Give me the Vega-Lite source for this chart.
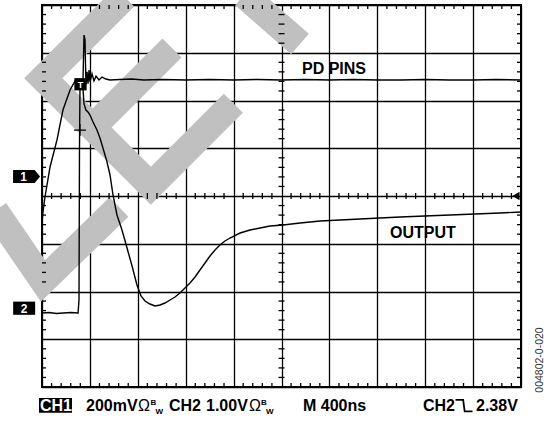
{
  "$schema": "https://vega.github.io/schema/vega-lite/v6.json",
  "width": 479,
  "height": 382,
  "autosize": "none",
  "padding": {"left": 42, "top": 5, "right": 28, "bottom": 36},
  "background": "white",
  "config": {
    "view": {"stroke": "black", "strokeWidth": 2},
    "axis": {"grid": true, "gridColor": "black", "gridWidth": 1.3, "gridOpacity": 1, "labels": false, "ticks": false, "domain": false, "title": null, "zindex": 1}
  },
  "datasets": {
    "wm": [
      {"id": "E", "i": 0, "t": 690.6, "v": 4.168},
      {"id": "E", "i": 1, "t": 10.9, "v": 2.465},
      {"id": "E", "i": 2, "t": 908.6, "v": 0.214},
      {"id": "E", "i": 3, "t": 1597.6, "v": 1.941},
      {"id": "M", "i": 0, "t": 421.7, "v": 1.435},
      {"id": "M", "i": 1, "t": 1085.6, "v": 3.099},
      {"id": "R", "i": 0, "t": 1686.9, "v": 4.209},
      {"id": "R", "i": 1, "t": 2154.6, "v": 3.183},
      {"id": "V", "i": 0, "t": -392.5, "v": -0.308},
      {"id": "V", "i": 1, "t": 8.4, "v": -1.78},
      {"id": "V", "i": 2, "t": 643, "v": -0.23}
    ],
    "xminor": [
      {"p": 80}, {"p": 160}, {"p": 240}, {"p": 320},
      {"p": 480}, {"p": 560}, {"p": 640}, {"p": 720},
      {"p": 880}, {"p": 960}, {"p": 1040}, {"p": 1120},
      {"p": 1280}, {"p": 1360}, {"p": 1440}, {"p": 1520},
      {"p": 1680}, {"p": 1760}, {"p": 1840}, {"p": 1920},
      {"p": 2080}, {"p": 2160}, {"p": 2240}, {"p": 2320},
      {"p": 2480}, {"p": 2560}, {"p": 2640}, {"p": 2720},
      {"p": 2880}, {"p": 2960}, {"p": 3040}, {"p": 3120},
      {"p": 3280}, {"p": 3360}, {"p": 3440}, {"p": 3520},
      {"p": 3680}, {"p": 3760}, {"p": 3840}, {"p": 3920}
    ],
    "yminor": [
      {"p": -3.8}, {"p": -3.6}, {"p": -3.4}, {"p": -3.2},
      {"p": -2.8}, {"p": -2.6}, {"p": -2.4}, {"p": -2.2},
      {"p": -1.8}, {"p": -1.6}, {"p": -1.4}, {"p": -1.2},
      {"p": -0.8}, {"p": -0.6}, {"p": -0.4}, {"p": -0.2},
      {"p": 0.2}, {"p": 0.4}, {"p": 0.6}, {"p": 0.8},
      {"p": 1.2}, {"p": 1.4}, {"p": 1.6}, {"p": 1.8},
      {"p": 2.2}, {"p": 2.4}, {"p": 2.6}, {"p": 2.8},
      {"p": 3.2}, {"p": 3.4}, {"p": 3.6}, {"p": 3.8}
    ],
    "trace": [
      {"s": "pd", "t": 0, "v": -2.45},
      {"s": "pd", "t": 60, "v": -2.44},
      {"s": "pd", "t": 120, "v": -2.46},
      {"s": "pd", "t": 180, "v": -2.45},
      {"s": "pd", "t": 240, "v": -2.44},
      {"s": "pd", "t": 301, "v": -2.45},
      {"s": "pd", "t": 309, "v": -2.18},
      {"s": "pd", "t": 313, "v": 0.96},
      {"s": "pd", "t": 317, "v": 2.22},
      {"s": "pd", "t": 326, "v": 2.35},
      {"s": "pd", "t": 342, "v": 2.39},
      {"s": "pd", "t": 351, "v": 3.37},
      {"s": "pd", "t": 359, "v": 3.27},
      {"s": "pd", "t": 367, "v": 2.33},
      {"s": "pd", "t": 376, "v": 2.6},
      {"s": "pd", "t": 384, "v": 2.35},
      {"s": "pd", "t": 393, "v": 2.64},
      {"s": "pd", "t": 401, "v": 2.39},
      {"s": "pd", "t": 418, "v": 2.56},
      {"s": "pd", "t": 434, "v": 2.41},
      {"s": "pd", "t": 451, "v": 2.51},
      {"s": "pd", "t": 476, "v": 2.43},
      {"s": "pd", "t": 501, "v": 2.49},
      {"s": "pd", "t": 534, "v": 2.45},
      {"s": "pd", "t": 568, "v": 2.43},
      {"s": "pd", "t": 650, "v": 2.44},
      {"s": "pd", "t": 750, "v": 2.45},
      {"s": "pd", "t": 850, "v": 2.43},
      {"s": "pd", "t": 1000, "v": 2.44},
      {"s": "pd", "t": 1200, "v": 2.43},
      {"s": "pd", "t": 1400, "v": 2.44},
      {"s": "pd", "t": 1600, "v": 2.43},
      {"s": "pd", "t": 1800, "v": 2.44},
      {"s": "pd", "t": 2000, "v": 2.43},
      {"s": "pd", "t": 2200, "v": 2.44},
      {"s": "pd", "t": 2400, "v": 2.43},
      {"s": "pd", "t": 2600, "v": 2.44},
      {"s": "pd", "t": 2800, "v": 2.43},
      {"s": "pd", "t": 3000, "v": 2.43},
      {"s": "pd", "t": 3200, "v": 2.44},
      {"s": "pd", "t": 3400, "v": 2.43},
      {"s": "pd", "t": 3600, "v": 2.43},
      {"s": "pd", "t": 3800, "v": 2.44},
      {"s": "pd", "t": 4000, "v": 2.43},
      {"s": "out", "t": 0, "v": -0.545},
      {"s": "out", "t": 8, "v": -0.335},
      {"s": "out", "t": 25, "v": -0.021},
      {"s": "out", "t": 67, "v": 0.607},
      {"s": "out", "t": 125, "v": 1.173},
      {"s": "out", "t": 175, "v": 1.801},
      {"s": "out", "t": 234, "v": 2.22},
      {"s": "out", "t": 276, "v": 2.408},
      {"s": "out", "t": 301, "v": 2.45},
      {"s": "out", "t": 326, "v": 2.429},
      {"s": "out", "t": 342, "v": 2.262},
      {"s": "out", "t": 351, "v": 1.927},
      {"s": "out", "t": 367, "v": 1.801},
      {"s": "out", "t": 384, "v": 1.759},
      {"s": "out", "t": 401, "v": 1.696},
      {"s": "out", "t": 426, "v": 1.55},
      {"s": "out", "t": 459, "v": 1.382},
      {"s": "out", "t": 484, "v": 1.215},
      {"s": "out", "t": 509, "v": 1.005},
      {"s": "out", "t": 543, "v": 0.712},
      {"s": "out", "t": 568, "v": 0.44},
      {"s": "out", "t": 593, "v": 0.021},
      {"s": "out", "t": 626, "v": -0.398},
      {"s": "out", "t": 668, "v": -0.712},
      {"s": "out", "t": 710, "v": -1.089},
      {"s": "out", "t": 752, "v": -1.466},
      {"s": "out", "t": 793, "v": -1.864},
      {"s": "out", "t": 827, "v": -2.094},
      {"s": "out", "t": 860, "v": -2.199},
      {"s": "out", "t": 902, "v": -2.262},
      {"s": "out", "t": 944, "v": -2.304},
      {"s": "out", "t": 985, "v": -2.283},
      {"s": "out", "t": 1027, "v": -2.241},
      {"s": "out", "t": 1069, "v": -2.178},
      {"s": "out", "t": 1111, "v": -2.115},
      {"s": "out", "t": 1152, "v": -2.031},
      {"s": "out", "t": 1194, "v": -1.927},
      {"s": "out", "t": 1236, "v": -1.822},
      {"s": "out", "t": 1278, "v": -1.696},
      {"s": "out", "t": 1319, "v": -1.55},
      {"s": "out", "t": 1361, "v": -1.403},
      {"s": "out", "t": 1403, "v": -1.257},
      {"s": "out", "t": 1445, "v": -1.131},
      {"s": "out", "t": 1486, "v": -1.026},
      {"s": "out", "t": 1528, "v": -0.942},
      {"s": "out", "t": 1570, "v": -0.88},
      {"s": "out", "t": 1654, "v": -0.775},
      {"s": "out", "t": 1737, "v": -0.712},
      {"s": "out", "t": 1821, "v": -0.67},
      {"s": "out", "t": 1904, "v": -0.628},
      {"s": "out", "t": 2013, "v": -0.607},
      {"s": "out", "t": 2155, "v": -0.565},
      {"s": "out", "t": 2322, "v": -0.524},
      {"s": "out", "t": 2489, "v": -0.503},
      {"s": "out", "t": 2656, "v": -0.482},
      {"s": "out", "t": 2823, "v": -0.461},
      {"s": "out", "t": 2990, "v": -0.44},
      {"s": "out", "t": 3198, "v": -0.419},
      {"s": "out", "t": 3407, "v": -0.398},
      {"s": "out", "t": 3616, "v": -0.377},
      {"s": "out", "t": 3825, "v": -0.356},
      {"s": "out", "t": 4000, "v": -0.335}
    ],
    "ann": [
      {"k": "tbox", "t": 321.5, "v": 2.34},
      {"k": "cross", "t": 317, "v": 1.38},
      {"k": "lvl", "t": 3958, "v": 0},
      {"k": "m1", "t": -129, "v": 0.41},
      {"k": "m2", "t": -149, "v": -2.35},
      {"k": "trig", "t": 3524, "v": -4.39}
    ],
    "box": [
      {"t": -25, "t2": 250.5, "v": -4.23, "v2": -4.54}
    ],
    "txt": [
      {"k": "big", "t": 2171.3, "v": 2.565, "s": "PD PINS"},
      {"k": "big", "t": 2906, "v": -0.88, "s": "OUTPUT"},
      {"k": "big", "t": 367.4, "v": -4.513, "s": "200mV"},
      {"k": "big", "t": 1060, "v": -4.513, "s": "CH2"},
      {"k": "big", "t": 1369.6, "v": -4.513, "s": "1.00V"},
      {"k": "big", "t": 2179.6, "v": -4.513, "s": "M 400ns"},
      {"k": "big", "t": 3181.7, "v": -4.513, "s": "CH2"},
      {"k": "big", "t": 3624.3, "v": -4.513, "s": "2.38V"},
      {"k": "om", "t": 801.7, "v": -4.513, "s": "Ω"},
      {"k": "om", "t": 1728.7, "v": -4.513, "s": "Ω"},
      {"k": "sm", "t": 906, "v": -4.377, "s": "B"},
      {"k": "sm", "t": 948, "v": -4.555, "s": "W"},
      {"k": "sm", "t": 1828.9, "v": -4.377, "s": "B"},
      {"k": "sm", "t": 1870.6, "v": -4.555, "s": "W"},
      {"k": "ch1", "t": -16.7, "v": -4.513, "s": "CH1"},
      {"k": "num", "t": -154.5, "v": 0.419, "s": "1"},
      {"k": "num", "t": -150.3, "v": -2.356, "s": "2"},
      {"k": "tt", "t": 321.5, "v": 2.34, "s": "T"},
      {"k": "id", "t": 4159, "v": -3.435, "s": "004802-0-020"}
    ]
  },
  "layer": [
    {
      "data": {"name": "wm"},
      "mark": {"type": "line", "color": "#c0c0c0", "strokeWidth": 27, "strokeJoin": "miter", "strokeCap": "butt", "clip": false},
      "encoding": {
        "x": {"field": "t", "type": "quantitative", "scale": {"domain": [0, 4000], "nice": false, "zero": false}, "axis": {"values": [0, 400, 800, 1200, 1600, 2000, 2400, 2800, 3200, 3600, 4000]}},
        "y": {"field": "v", "type": "quantitative", "scale": {"domain": [-4, 4], "nice": false, "zero": false}, "axis": {"values": [-4, -3, -2, -1, 0, 1, 2, 3, 4]}},
        "detail": {"field": "id"},
        "order": {"field": "i"}
      }
    },
    {
      "data": {"name": "xminor"},
      "mark": {"type": "tick", "orient": "vertical", "size": 4, "thickness": 1.3, "yOffset": 2, "color": "black", "opacity": 1},
      "encoding": {
        "x": {"field": "p", "type": "quantitative", "scale": {"domain": [0, 4000], "nice": false, "zero": false}},
        "y": {"datum": 4, "type": "quantitative", "scale": {"domain": [-4, 4], "nice": false, "zero": false}}
      }
    },
    {
      "data": {"name": "xminor"},
      "mark": {"type": "tick", "orient": "vertical", "size": 4, "thickness": 1.3, "yOffset": -2, "color": "black", "opacity": 1},
      "encoding": {
        "x": {"field": "p", "type": "quantitative", "scale": {"domain": [0, 4000], "nice": false, "zero": false}},
        "y": {"datum": -4, "type": "quantitative", "scale": {"domain": [-4, 4], "nice": false, "zero": false}}
      }
    },
    {
      "data": {"name": "xminor"},
      "mark": {"type": "tick", "orient": "vertical", "size": 6, "thickness": 1.3, "color": "black", "opacity": 1},
      "encoding": {
        "x": {"field": "p", "type": "quantitative", "scale": {"domain": [0, 4000], "nice": false, "zero": false}},
        "y": {"datum": 0, "type": "quantitative", "scale": {"domain": [-4, 4], "nice": false, "zero": false}}
      }
    },
    {
      "data": {"name": "yminor"},
      "mark": {"type": "tick", "orient": "horizontal", "size": 4, "thickness": 1.3, "xOffset": 2, "color": "black", "opacity": 1},
      "encoding": {
        "y": {"field": "p", "type": "quantitative", "scale": {"domain": [-4, 4], "nice": false, "zero": false}},
        "x": {"datum": 0, "type": "quantitative", "scale": {"domain": [0, 4000], "nice": false, "zero": false}}
      }
    },
    {
      "data": {"name": "yminor"},
      "mark": {"type": "tick", "orient": "horizontal", "size": 4, "thickness": 1.3, "xOffset": -2, "color": "black", "opacity": 1},
      "encoding": {
        "y": {"field": "p", "type": "quantitative", "scale": {"domain": [-4, 4], "nice": false, "zero": false}},
        "x": {"datum": 4000, "type": "quantitative", "scale": {"domain": [0, 4000], "nice": false, "zero": false}}
      }
    },
    {
      "data": {"name": "yminor"},
      "mark": {"type": "tick", "orient": "horizontal", "size": 6, "thickness": 1.3, "color": "black", "opacity": 1},
      "encoding": {
        "y": {"field": "p", "type": "quantitative", "scale": {"domain": [-4, 4], "nice": false, "zero": false}},
        "x": {"datum": 2000, "type": "quantitative", "scale": {"domain": [0, 4000], "nice": false, "zero": false}}
      }
    },
    {
      "data": {"name": "trace"},
      "mark": {"type": "line", "color": "black", "strokeWidth": 1.4, "clip": false},
      "encoding": {
        "x": {"field": "t", "type": "quantitative", "scale": {"domain": [0, 4000], "nice": false, "zero": false}},
        "y": {"field": "v", "type": "quantitative", "scale": {"domain": [-4, 4], "nice": false, "zero": false}},
        "detail": {"field": "s"}
      }
    },
    {
      "data": {"name": "box"},
      "mark": {"type": "rect", "color": "black", "opacity": 1},
      "encoding": {
        "x": {"field": "t", "type": "quantitative", "scale": {"domain": [0, 4000], "nice": false, "zero": false}},
        "x2": {"field": "t2"},
        "y": {"field": "v", "type": "quantitative", "scale": {"domain": [-4, 4], "nice": false, "zero": false}},
        "y2": {"field": "v2"}
      }
    },
    {
      "data": {"name": "ann"},
      "transform": [{"filter": "datum.k == 'tbox'"}],
      "mark": {"type": "point", "shape": "square", "size": 150, "filled": true, "color": "black", "opacity": 1},
      "encoding": {
        "x": {"field": "t", "type": "quantitative", "scale": {"domain": [0, 4000], "nice": false, "zero": false}},
        "y": {"field": "v", "type": "quantitative", "scale": {"domain": [-4, 4], "nice": false, "zero": false}}
      }
    },
    {
      "data": {"name": "ann"},
      "transform": [{"filter": "datum.k == 'cross'"}],
      "mark": {"type": "point", "shape": "M-1,0L1,0M0,-1L0,1", "size": 144, "filled": false, "color": "black", "strokeWidth": 1.2, "opacity": 1},
      "encoding": {
        "x": {"field": "t", "type": "quantitative", "scale": {"domain": [0, 4000], "nice": false, "zero": false}},
        "y": {"field": "v", "type": "quantitative", "scale": {"domain": [-4, 4], "nice": false, "zero": false}}
      }
    },
    {
      "data": {"name": "ann"},
      "transform": [{"filter": "datum.k == 'lvl'"}],
      "mark": {"type": "point", "shape": "triangle-left", "size": 70, "filled": true, "color": "black", "opacity": 1},
      "encoding": {
        "x": {"field": "t", "type": "quantitative", "scale": {"domain": [0, 4000], "nice": false, "zero": false}},
        "y": {"field": "v", "type": "quantitative", "scale": {"domain": [-4, 4], "nice": false, "zero": false}}
      }
    },
    {
      "data": {"name": "ann"},
      "transform": [{"filter": "datum.k == 'm1'"}],
      "mark": {"type": "point", "shape": "M-1,-0.48L0.6,-0.48L1,0L0.6,0.48L-1,0.48Z", "size": 729, "filled": true, "color": "black", "opacity": 1},
      "encoding": {
        "x": {"field": "t", "type": "quantitative", "scale": {"domain": [0, 4000], "nice": false, "zero": false}},
        "y": {"field": "v", "type": "quantitative", "scale": {"domain": [-4, 4], "nice": false, "zero": false}}
      }
    },
    {
      "data": {"name": "ann"},
      "transform": [{"filter": "datum.k == 'm2'"}],
      "mark": {"type": "point", "shape": "M-1,-0.6L1,-0.6L1,0.6L-1,0.6Z", "size": 484, "filled": true, "color": "black", "opacity": 1},
      "encoding": {
        "x": {"field": "t", "type": "quantitative", "scale": {"domain": [0, 4000], "nice": false, "zero": false}},
        "y": {"field": "v", "type": "quantitative", "scale": {"domain": [-4, 4], "nice": false, "zero": false}}
      }
    },
    {
      "data": {"name": "ann"},
      "transform": [{"filter": "datum.k == 'trig'"}],
      "mark": {"type": "point", "shape": "M-1,-0.68L-0.1,-0.68L0.08,0.68L1,0.68", "size": 289, "filled": false, "color": "black", "strokeWidth": 1.8, "opacity": 1},
      "encoding": {
        "x": {"field": "t", "type": "quantitative", "scale": {"domain": [0, 4000], "nice": false, "zero": false}},
        "y": {"field": "v", "type": "quantitative", "scale": {"domain": [-4, 4], "nice": false, "zero": false}}
      }
    },
    {
      "data": {"name": "txt"},
      "transform": [{"filter": "datum.k == 'big'"}],
      "mark": {"type": "text", "font": "Liberation Sans", "fontSize": 16, "fontWeight": "bold", "align": "left", "baseline": "alphabetic", "color": "black"},
      "encoding": {
        "x": {"field": "t", "type": "quantitative", "scale": {"domain": [0, 4000], "nice": false, "zero": false}},
        "y": {"field": "v", "type": "quantitative", "scale": {"domain": [-4, 4], "nice": false, "zero": false}},
        "text": {"field": "s"}
      }
    },
    {
      "data": {"name": "txt"},
      "transform": [{"filter": "datum.k == 'om'"}],
      "mark": {"type": "text", "font": "Liberation Sans", "fontSize": 16, "align": "left", "baseline": "alphabetic", "color": "black"},
      "encoding": {
        "x": {"field": "t", "type": "quantitative", "scale": {"domain": [0, 4000], "nice": false, "zero": false}},
        "y": {"field": "v", "type": "quantitative", "scale": {"domain": [-4, 4], "nice": false, "zero": false}},
        "text": {"field": "s"}
      }
    },
    {
      "data": {"name": "txt"},
      "transform": [{"filter": "datum.k == 'sm'"}],
      "mark": {"type": "text", "font": "Liberation Sans", "fontSize": 8, "fontWeight": "bold", "align": "left", "baseline": "alphabetic", "color": "black"},
      "encoding": {
        "x": {"field": "t", "type": "quantitative", "scale": {"domain": [0, 4000], "nice": false, "zero": false}},
        "y": {"field": "v", "type": "quantitative", "scale": {"domain": [-4, 4], "nice": false, "zero": false}},
        "text": {"field": "s"}
      }
    },
    {
      "data": {"name": "txt"},
      "transform": [{"filter": "datum.k == 'ch1'"}],
      "mark": {"type": "text", "font": "Liberation Sans", "fontSize": 16, "fontWeight": "bold", "align": "left", "baseline": "alphabetic", "color": "white"},
      "encoding": {
        "x": {"field": "t", "type": "quantitative", "scale": {"domain": [0, 4000], "nice": false, "zero": false}},
        "y": {"field": "v", "type": "quantitative", "scale": {"domain": [-4, 4], "nice": false, "zero": false}},
        "text": {"field": "s"}
      }
    },
    {
      "data": {"name": "txt"},
      "transform": [{"filter": "datum.k == 'num'"}],
      "mark": {"type": "text", "font": "Liberation Sans", "fontSize": 12, "fontWeight": "bold", "align": "center", "baseline": "middle", "dy": 1, "color": "white"},
      "encoding": {
        "x": {"field": "t", "type": "quantitative", "scale": {"domain": [0, 4000], "nice": false, "zero": false}},
        "y": {"field": "v", "type": "quantitative", "scale": {"domain": [-4, 4], "nice": false, "zero": false}},
        "text": {"field": "s"}
      }
    },
    {
      "data": {"name": "txt"},
      "transform": [{"filter": "datum.k == 'tt'"}],
      "mark": {"type": "text", "font": "Liberation Sans", "fontSize": 9, "fontWeight": "bold", "align": "center", "baseline": "middle", "dy": 1, "color": "white"},
      "encoding": {
        "x": {"field": "t", "type": "quantitative", "scale": {"domain": [0, 4000], "nice": false, "zero": false}},
        "y": {"field": "v", "type": "quantitative", "scale": {"domain": [-4, 4], "nice": false, "zero": false}},
        "text": {"field": "s"}
      }
    },
    {
      "data": {"name": "txt"},
      "transform": [{"filter": "datum.k == 'id'"}],
      "mark": {"type": "text", "font": "Liberation Sans", "fontSize": 10.5, "angle": 270, "align": "center", "baseline": "middle", "color": "#333333"},
      "encoding": {
        "x": {"field": "t", "type": "quantitative", "scale": {"domain": [0, 4000], "nice": false, "zero": false}},
        "y": {"field": "v", "type": "quantitative", "scale": {"domain": [-4, 4], "nice": false, "zero": false}},
        "text": {"field": "s"}
      }
    }
  ]
}
